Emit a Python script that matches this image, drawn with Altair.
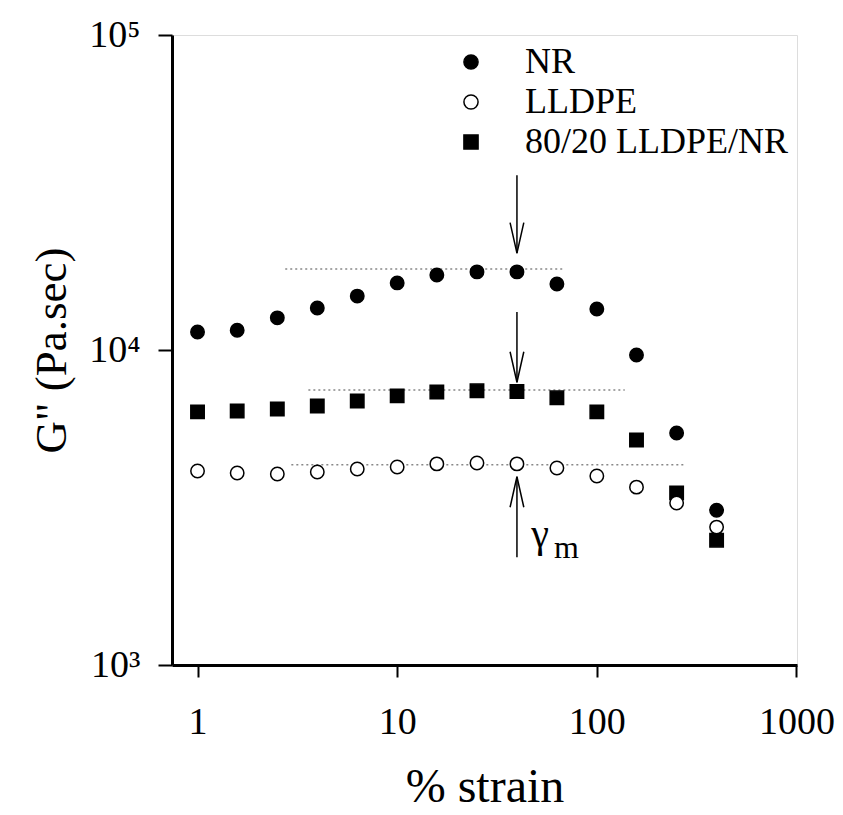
import altair as alt
import pandas as pd

# ---- data ----
strain = [1, 1.58, 2.51, 3.98, 6.31, 10, 15.8, 25.1, 39.8, 63.1, 100, 158, 251, 398]
g_nr = [11400, 11560, 12650, 13590, 14830, 16330, 17300, 17700, 17700, 16200, 13500, 9640, 5450, 3100]
g_blend = [6360, 6400, 6500, 6640, 6890, 7150, 7360, 7420, 7380, 7050, 6360, 5180, 3520, 2490]
g_lldpe = [4130, 4070, 4040, 4100, 4190, 4250, 4350, 4380, 4350, 4220, 3980, 3670, 3270, 2740]
series_order = ["NR", "LLDPE", "80/20 LLDPE/NR"]

ref_series = ["NR", "80/20 LLDPE/NR", "LLDPE"]
ref_g = [18070, 7460, 4320]
ref_x1 = [2.75, 3.59, 2.95]
ref_x2 = [68.4, 138, 272]

arrow_x = [39.8, 39.8, 39.8]
arrow_from = [35900, 13200, 2200]
arrow_to = [20300, 7900, 3960]
arrow_dir = ["down", "down", "up"]

gamma_x, gamma_y = 47.0, 2370.0
sub_x, sub_y = 61.0, 2190.0

x_ticks = [1, 10, 100, 1000]
y_ticks = [1000, 10000, 100000]

FONT = "Liberation Serif"

rows = []
for name, vals in [("NR", g_nr), ("80/20 LLDPE/NR", g_blend), ("LLDPE", g_lldpe)]:
    for s, g in zip(strain, vals):
        rows.append({"strain": s, "G": g, "series": name})
df = pd.DataFrame(rows)

ref_df = pd.DataFrame({"series": ref_series, "G": ref_g, "x1": ref_x1, "x2": ref_x2})
arr_df = pd.DataFrame({"x": arrow_x, "y1": arrow_from, "y2": arrow_to, "dir": arrow_dir})
lab_df = pd.DataFrame({"x": [gamma_x], "y": [gamma_y], "t": ["γ"]})
sub_df = pd.DataFrame({"x": [sub_x], "y": [sub_y], "t": ["m"]})

xscale = alt.Scale(type="log", domain=[0.745, 1006], nice=False)
yscale = alt.Scale(type="log", domain=[1000, 100000], nice=False)

xax = alt.Axis(values=x_ticks, title="% strain", format="d", grid=False,
               labelFont=FONT, labelFontSize=38, labelColor="black", labelPadding=26,
               tickSize=12, tickColor="black", tickWidth=2, domainColor="black", domainWidth=3,
               titleFont=FONT, titleFontSize=48, titleFontWeight="normal", titleColor="black",
               titlePadding=22, labelFlush=False)
yax = alt.Axis(values=y_ticks, title='G" (Pa.sec)', grid=False,
               labelExpr="datum.value == 1000 ? '10³' : datum.value == 10000 ? '10⁴' : '10⁵'",
               labelFont=FONT, labelFontSize=38, labelColor="black", labelPadding=18,
               tickSize=14, tickColor="black", tickWidth=2, domainColor="black", domainWidth=3,
               titleFont=FONT, titleFontSize=45, titleFontWeight="normal", titleColor="black",
               titlePadding=14, labelFlush=False)

legend = alt.Legend(title=None, orient="none", legendX=281, legendY=9,
                    labelFont=FONT, labelFontSize=36, labelColor="black", labelLimit=500,
                    symbolSize=200, symbolStrokeColor="black", symbolStrokeWidth=1.5,
                    labelOffset=36, rowPadding=4)

points = alt.Chart(df).mark_point(filled=True, size=180, strokeWidth=1.5, opacity=1).encode(
    x=alt.X("strain:Q", scale=xscale, axis=xax),
    y=alt.Y("G:Q", scale=yscale, axis=yax),
    shape=alt.Shape("series:N", scale=alt.Scale(domain=series_order, range=["circle", "circle", "square"]), legend=legend),
    fill=alt.Fill("series:N", scale=alt.Scale(domain=series_order, range=["black", "white", "black"]), legend=legend),
    stroke=alt.Stroke("series:N", scale=alt.Scale(domain=series_order, range=["black", "black", "black"]), legend=legend),
)

refs = alt.Chart(ref_df).mark_rule(color="#888888", strokeWidth=1.5, strokeDash=[2, 3]).encode(
    x=alt.X("x1:Q", scale=xscale), x2="x2:Q", y=alt.Y("G:Q", scale=yscale)
)

arrows = alt.Chart(arr_df).mark_rule(color="black", strokeWidth=1.5).encode(
    x=alt.X("x:Q", scale=xscale), y=alt.Y("y1:Q", scale=yscale), y2="y2:Q"
)
head_down = alt.Chart(arr_df).transform_filter("datum.dir == 'down'").mark_point(
    shape="M-0.45,-2L0,0L0.45,-2", size=930, filled=False, stroke="black", strokeWidth=1.5, opacity=1
).encode(x=alt.X("x:Q", scale=xscale), y=alt.Y("y2:Q", scale=yscale))
head_up = alt.Chart(arr_df).transform_filter("datum.dir == 'up'").mark_point(
    shape="M-0.45,2L0,0L0.45,2", size=930, filled=False, stroke="black", strokeWidth=1.5, opacity=1
).encode(x=alt.X("x:Q", scale=xscale), y=alt.Y("y2:Q", scale=yscale))

gamma = alt.Chart(lab_df).mark_text(font=FONT, fontSize=40, align="left", baseline="alphabetic", color="black").encode(
    x=alt.X("x:Q", scale=xscale), y=alt.Y("y:Q", scale=yscale), text="t:N"
)
sub = alt.Chart(sub_df).mark_text(font=FONT, fontSize=32, align="left", baseline="alphabetic", color="black").encode(
    x=alt.X("x:Q", scale=xscale), y=alt.Y("y:Q", scale=yscale), text="t:N"
)

chart = alt.layer(refs, arrows, head_down, head_up, points, gamma, sub).properties(
    width=625, height=630,
    autosize=alt.AutoSizeParams(type="none"),
    padding={"left": 172, "top": 35, "right": 46, "bottom": 150},
).configure_view(stroke="black", strokeWidth=2).configure(background="white")

chart.save("out.html", embed_options={"renderer": "svg", "actions": False})
